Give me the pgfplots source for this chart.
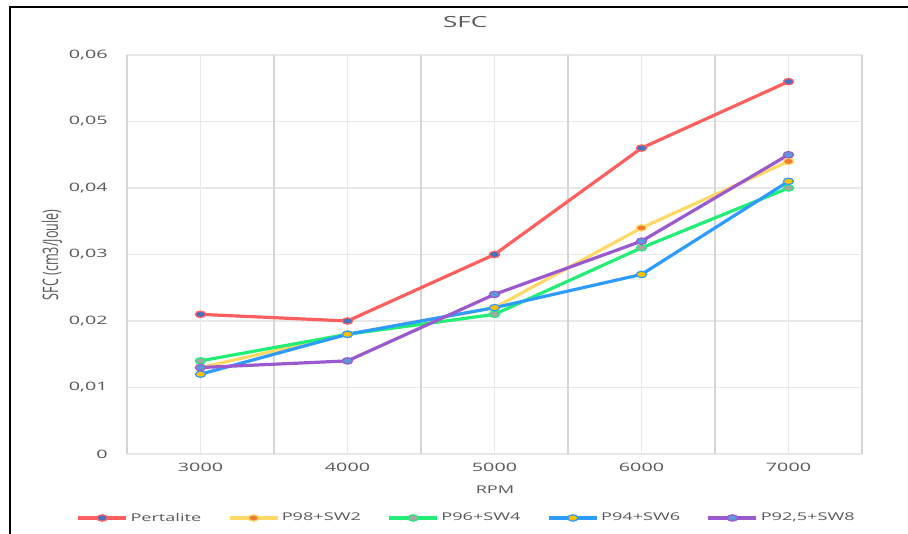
\documentclass[border=0pt]{standalone}
\usepackage{fontspec}
\setmainfont{Open Sans}[FakeStretch=1.7]
\newfontfamily\ylabfont{Open Sans}[FakeStretch=0.59]
\usepackage{pgfplots}
\pgfplotsset{compat=1.18}
\definecolor{txt}{HTML}{595959}
\definecolor{cPer}{HTML}{FF5F5F}
\definecolor{cP98}{HTML}{FFD966}
\definecolor{cP96}{HTML}{22EE77}
\definecolor{cP94}{HTML}{2E9BFF}
\definecolor{cP92}{HTML}{9B59D0}
\definecolor{fPer}{HTML}{4472C4}
\definecolor{fP98}{HTML}{ED7D31}
\definecolor{fP96}{HTML}{A5A5A5}
\definecolor{fP94}{HTML}{FFC000}
\definecolor{fP92}{HTML}{5B9BD5}
\begin{document}
\begin{tikzpicture}
\path[use as bounding box] (0,0) rectangle (681pt,400.5pt);
\draw[black, line width=1.6pt] (7.5pt,0) -- (7.5pt,395.25pt) -- (681pt,395.25pt);
\begin{axis}[
  at={(95.25pt,60pt)}, anchor=south west,
  scale only axis, width=551.25pt, height=299.25pt,
  xmin=2500, xmax=7500, ymin=0, ymax=0.06,
  scaled y ticks=false, scaled x ticks=false,
  xtick={3000,4000,5000,6000,7000},
  xticklabels={3000,4000,5000,6000,7000},
  extra x ticks={2500,3500,4500,5500,6500,7500},
  extra x tick labels={},
  extra x tick style={grid=major, major grid style={draw=black!16, line width=1.2pt}},
  ytick={0,0.01,0.02,0.03,0.04,0.05,0.06},
  yticklabels={0,{0,01},{0,02},{0,03},{0,04},{0,05},{0,06}},
  /pgf/number format/assume math mode=true,
  grid=major,
  major grid style={draw=black!9, line width=0.8pt},
  tick style={draw=none},
  axis line style={draw=none},
  ticklabel style={font=\fontsize{8.7}{10}\selectfont, text=txt},
  yticklabel style={anchor=east, xshift=-11pt},
  xticklabel style={yshift=-3pt},
  xlabel={RPM},
  xlabel style={at={(axis description cs:0.5007,-0.09)}, anchor=center, font=\fontsize{8}{10}\selectfont, text=txt},
  ylabel={SFC (cm3/Joule)},
  ylabel style={at={(axis description cs:-0.102,0.499)}, anchor=center, font=\fontsize{16}{18}\ylabfont, text=txt},
  title={SFC},
  title style={at={(axis description cs:0.46,1.063)}, anchor=center, font=\fontsize{11.5}{13}\selectfont, text=txt},
  legend columns=5,
  legend style={at={(axis description cs:0.4626,-0.1604)}, anchor=center, draw=none, fill=none,
    font=\fontsize{8}{10}\selectfont, text=txt,
    /tikz/every even column/.append style={column sep=18pt}},
  legend image code/.code={\draw[mark repeat=2,mark phase=2] plot coordinates {(0pt,0pt)(18pt,0pt)(36pt,0pt)};},
  every axis plot/.append style={line width=2.4pt, mark=*, mark size=2.4pt},
]
\addplot[cPer, mark options={fill=fPer, draw=cPer, line width=0.9pt, xscale=1.6}] coordinates {(3000,0.021)(4000,0.020)(5000,0.030)(6000,0.046)(7000,0.056)};
\addlegendentry{Pertalite}
\addplot[cP98, mark options={fill=fP98, draw=cP98, line width=0.9pt, xscale=1.6}] coordinates {(3000,0.013)(4000,0.018)(5000,0.022)(6000,0.034)(7000,0.044)};
\addlegendentry{P98+SW2}
\addplot[cP96, mark options={fill=fP96, draw=cP96, line width=0.9pt, xscale=1.6}] coordinates {(3000,0.014)(4000,0.018)(5000,0.021)(6000,0.031)(7000,0.040)};
\addlegendentry{P96+SW4}
\addplot[cP94, mark options={fill=fP94, draw=cP94, line width=0.9pt, xscale=1.6}] coordinates {(3000,0.012)(4000,0.018)(5000,0.022)(6000,0.027)(7000,0.041)};
\addlegendentry{P94+SW6}
\addplot[cP92, mark options={fill=fP92, draw=cP92, line width=0.9pt, xscale=1.6}] coordinates {(3000,0.013)(4000,0.014)(5000,0.024)(6000,0.032)(7000,0.045)};
\addlegendentry{P92,5+SW8}
\end{axis}
\end{tikzpicture}
\end{document}
